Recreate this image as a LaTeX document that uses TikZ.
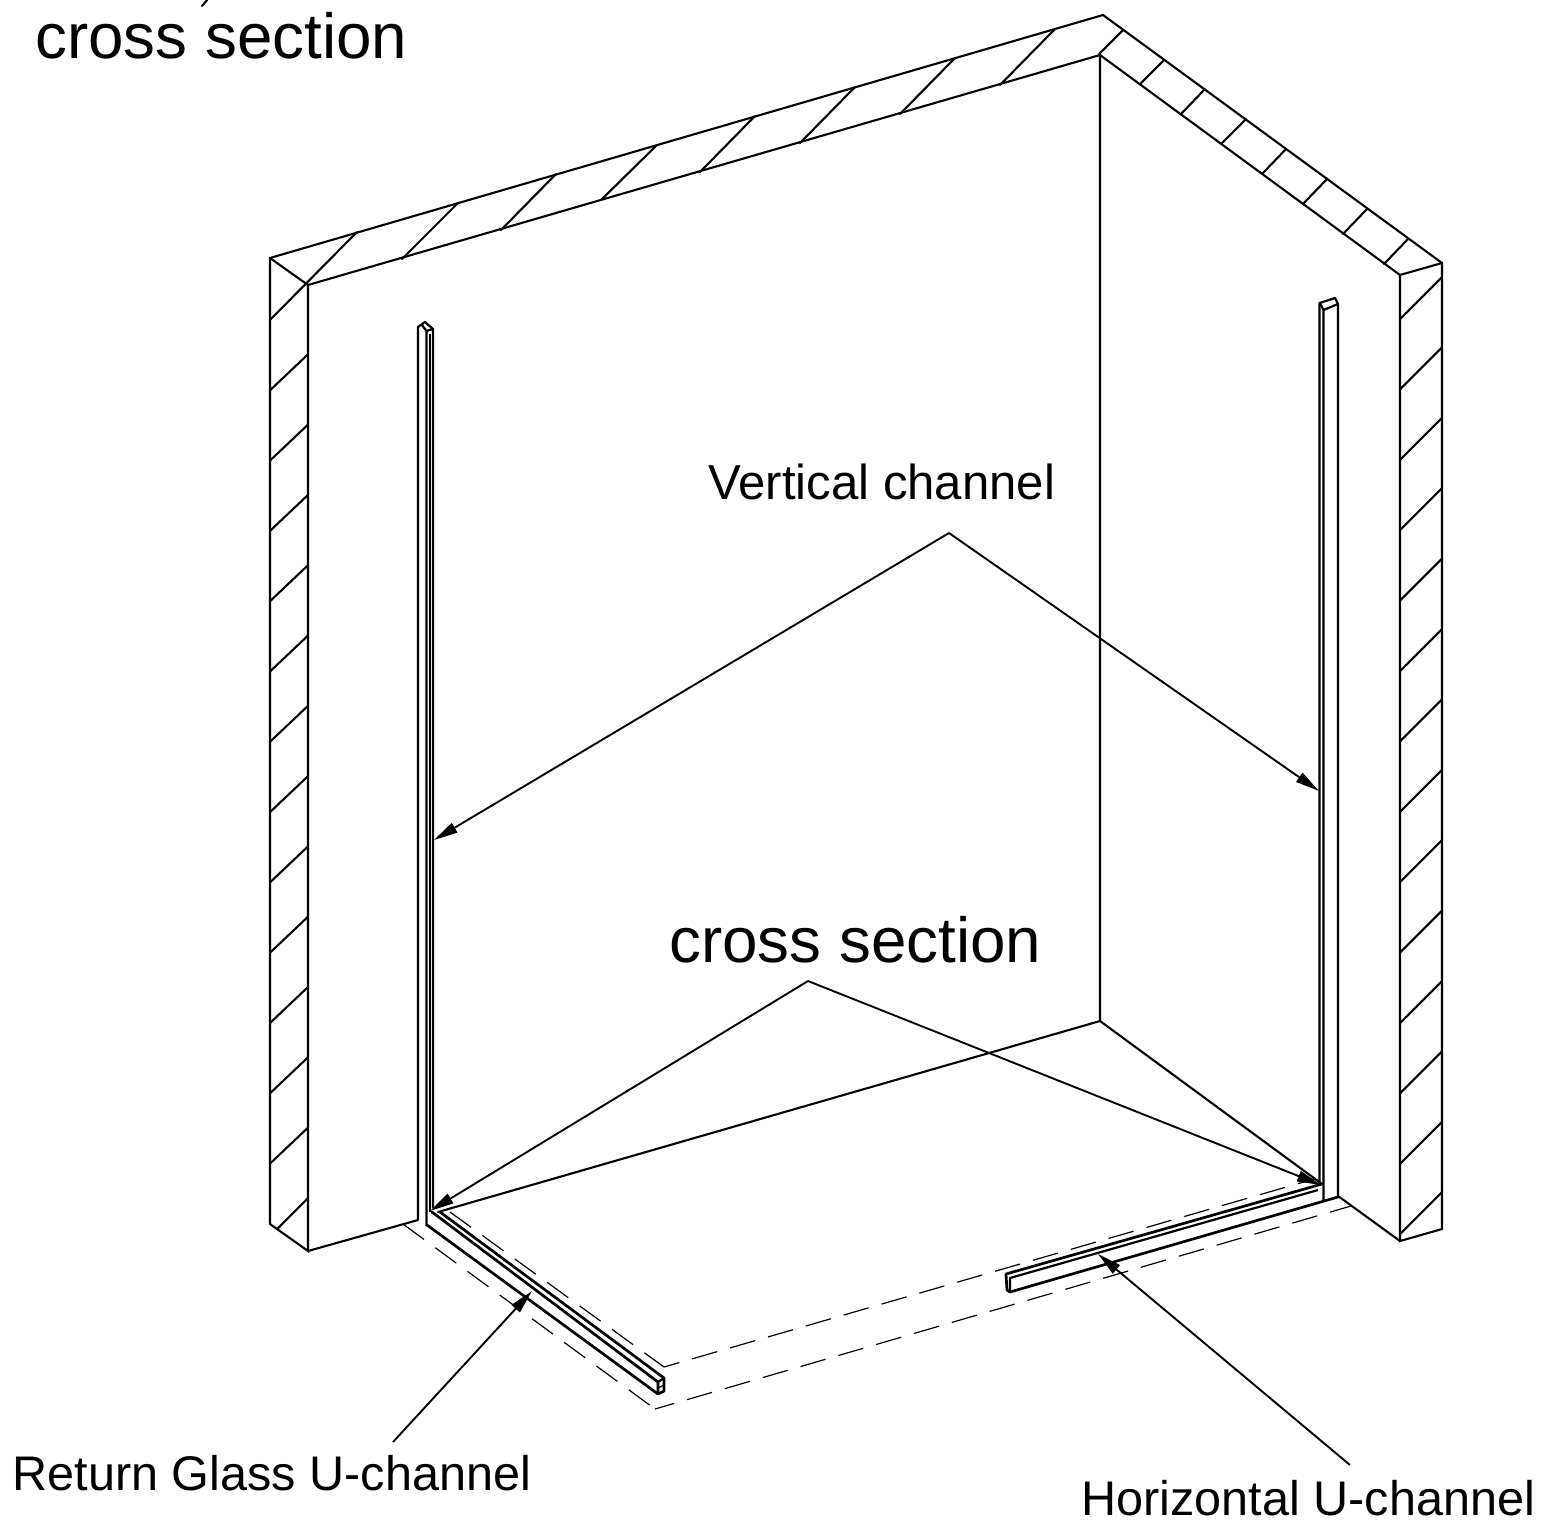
\documentclass[tikz,border=0pt]{standalone}
\usepackage{fontspec}
\setmainfont{Liberation Sans}
\usetikzlibrary{arrows.meta}
\tikzset{
  wall/.style={line width=1.05pt,line join=miter,line cap=round},
  hatch/.style={line width=1.05pt,line cap=round},
  rail/.style={line width=1.35pt,line join=round,line cap=round},
  railthin/.style={line width=1.1pt,line join=round},
  dashL/.style={line width=0.6pt,dash pattern=on 13pt off 7pt},
  dashR/.style={line width=0.6pt,dash pattern=on 13pt off 6.7pt},
  leader/.style={line width=0.95pt,-{Triangle[length=12pt,width=5.4pt]},shorten >=0pt},
  biglabel/.style={inner sep=0pt,anchor=base west,font=\fontsize{31.85pt}{34pt}\selectfont},
  label/.style={inner sep=0pt,anchor=base west,font=\fontsize{24.3pt}{27pt}\selectfont}
}
\begin{document}
\begin{tikzpicture}[x=0.5pt,y=-0.5pt]
\useasboundingbox (0,0) rectangle (1544,1523);
% labels
\node[biglabel] (csTop) at (35,58) {cross section};
\node[biglabel] (csMid) at (669,962) {cross section};
\node[label,font=\fontsize{24.55pt}{27pt}\selectfont] (vert) at (708,499) {Vertical channel};
\node[label] (ret) at (12,1490) {Return Glass U-channel};
\node[label] (hor) at (1081,1515) {Horizontal U-channel};
% wall outlines
\draw[wall] (270,1224) -- (270,258) -- (1103,15) -- (1442,263) -- (1442,1229) -- (1400,1241) -- (1400,275) -- (1100,55) -- (308,285) -- (308,1251) -- (270,1224);
\draw[wall] (270,258) -- (308,285);
\draw[wall] (1400,275) -- (1442,263);
\draw[wall] (1100,55) -- (1100,1021) -- (438,1212);
\draw[wall] (1100,1021) -- (1322,1184);
\draw[wall] (308,1251) -- (418,1220);
\draw[wall] (1338,1196) -- (1400,1241);
% hatching, top left
\draw[hatch] (207,0) -- (202,6);
\draw[hatch] (357,232) -- (270,320);
\foreach \a/\b/\c/\d in {458/203/402/259, 556/174/501/230, 657/145/601/200, 755/116/700/172, 855/87/800/143, 955/58/900/114, 1055/29/1000/85}
  \draw[hatch] (\a,\b) -- (\c,\d);
% hatching, top right
\foreach \a/\b/\c/\d in {1123/30/1099/54, 1164/60/1140/84, 1205/89/1181/114, 1246/119/1221/144, 1286/149/1262/174, 1327/179/1303/204, 1367/209/1343/234, 1408/239/1384/264}
  \draw[hatch] (\a,\b) -- (\c,\d);
% hatching, left wall
\foreach \k in {1,...,12}
  \draw[hatch] (308,{284+70.3*\k}) -- (270,{320+70.3*\k});
\draw[hatch] (308,1198) -- (277,1229);
% hatching, right wall
\foreach \k in {0,...,13}
  \draw[hatch] (1442,{277+70.4*\k}) -- (1400,{319+70.4*\k});
% left vertical channel
\draw[railthin] (418,1220) -- (418,327) -- (425,322) -- (433,329) -- (433,1208);
\draw[railthin] (426.5,1226) -- (426.5,331) -- (422,325);
\draw[railthin] (430,1212) -- (430,334);
\draw[railthin] (426.5,331) -- (433,329);
% right vertical channel
\draw[railthin] (1319.5,1183) -- (1319.5,303) -- (1335,298) -- (1338,304) -- (1338,1196);
\draw[railthin] (1323.5,1201) -- (1323.5,310) -- (1320,303);
\draw[railthin] (1323.5,310) -- (1338,304);
% return rail
\draw[rail] (427,1225) -- (658,1394) -- (664,1391) -- (664,1378) -- (440,1212);
\draw[rail] (432,1212) -- (658,1382) -- (658,1394);
\draw[railthin] (658,1382) -- (664,1378);
\draw[line width=0.6pt] (658,1388) -- (664,1385);
% horizontal rail
\draw[rail] (1338,1197) -- (1010,1292) -- (1007,1290) -- (1006,1274) -- (1322,1184);
\draw[railthin] (1318,1190) -- (1010,1278) -- (1010,1292);
% dashed floor outline
\coordinate (dA) at (403,1224);
\coordinate (dB) at (655,1409);
\coordinate (dC) at (1351,1206);
\coordinate (dD) at (450,1212);
\coordinate (dE) at (664,1367);
\coordinate (dF) at (1314,1179);
\draw[dashL] (dA) -- (dB);
\draw[dashR,dash phase=3pt] (dB) -- (dC);
\draw[dashL] (dD) -- (dE);
\draw[dashR,dash phase=5pt] (dE) -- (dF);
% leaders
\coordinate (apexV) at (949,533);
\coordinate (tipVL) at (434,840);
\coordinate (tipVR) at (1319,791);
\coordinate (apexC) at (808,981);
\coordinate (tipCL) at (430,1211);
\coordinate (tipCR) at (1321,1185);
\coordinate (startR) at (393,1442);
\coordinate (tipR) at (532,1291);
\coordinate (startH) at (1350,1465);
\coordinate (tipH) at (1098,1254);
\draw[leader] (apexV) -- (tipVL);
\draw[leader] (apexV) -- (tipVR);
\draw[leader] (apexC) -- (tipCL);
\draw[leader] (apexC) -- (tipCR);
\draw[leader] (startR) -- (tipR);
\draw[leader] (startH) -- (tipH);
\end{tikzpicture}
\end{document}
